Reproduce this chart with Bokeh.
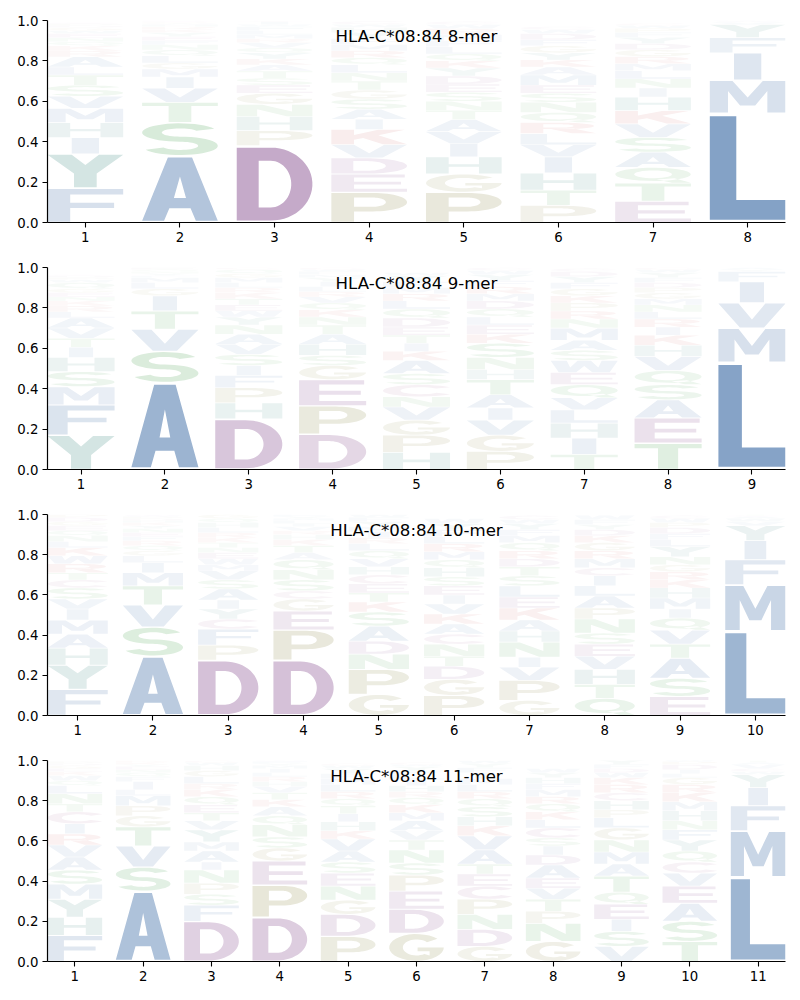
import numpy as np
from bokeh.plotting import figure
from bokeh.models import Range1d, FixedTicker, Label, ColumnDataSource, PrintfTickFormatter
from bokeh.layouts import column
from bokeh.embed import file_html
from bokeh.resources import INLINE

ALLELE = "HLA-C*08:84"

# ---------------- data: letters bottom-to-top per position, with probabilities ----------------
mer8_letters = [
    "FYIHMVSTLARKQNEWGDPC",
    "ASTVIMGLQNFEYKRHWPCD",
    "DPHNGESTAKYQVRMLFWIC",
    "PEDVKIASGTNLQRMFYHWC",
    "PGHIVATNSEDYKQLFMRWC",
    "PTHIVLRQNSEMAKYGFDWC",
    "ETQASVKHINLMRGDYFPWC",
    "LMIFYVAW",
]
mer8_heights = [
    [.17, .17, .08, .075, .07, .06, .055, .05, .04, .05, .03, .025, .02, .02, .02, .015, .015, .01, .01, .005],
    [.33, .165, .1, .07, .055, .04, .03, .035, .03, .025, .02, .02, .02, .015, .015, .01, .005, .005, .005, .005],
    [.38, .075, .07, .06, .055, .04, .035, .035, .03, .03, .03, .025, .025, .02, .02, .02, .02, .01, .015, .005],
    [.15, .09, .08, .066, .075, .05, .05, .05, .045, .045, .04, .04, .035, .035, .03, .03, .03, .025, .015, .015],
    [.15, .09, .085, .065, .06, .06, .045, .045, .045, .04, .04, .04, .035, .035, .035, .03, .03, .03, .02, .015],
    [.085, .075, .085, .08, .06, .055, .055, .05, .05, .045, .04, .05, .04, .035, .035, .035, .03, .03, .02, .015],
    [.105, .09, .078, .075, .074, .066, .066, .067, .045, .045, .04, .035, .035, .035, .03, .03, .025, .02, .015, .01],
    [.54, .165, .135, .075, .065, .01, .005, .005],
]

mer9_letters = [
    "YFMSHITVALRKNEGQWPDC",
    "ASVTIGLMFYNQE",
    "DHPFISVANYWETKRLMGQC",
    "DPEGSHATNKQVRLIYMFWC",
    "HPGVNCSAKITEDQLRMFYW",
    "PGVIATHNSKELQDMRFYWC",
    "TIHLVQEWSAMNRPKGFYDC",
    "TEASQVHKIRLNMGPDFYWC",
    "LMVIFYA",
]
mer9_heights = [
    [.17, .15, .09, .075, .07, .05, .045, .05, .05, .03, .03, .025, .02, .02, .02, .03, .015, .01, .01, .005],
    [.43, .155, .11, .09, .075, .035, .03, .025, .01, .01, .01, .01, .01],
    [.25, .08, .075, .06, .05, .055, .05, .05, .045, .04, .03, .03, .03, .03, .025, .025, .025, .02, .02, .01],
    [.175, .14, .13, .07, .05, .055, .05, .045, .04, .035, .035, .03, .025, .025, .025, .02, .015, .015, .01, .01],
    [.085, .085, .075, .065, .05, .06, .055, .065, .045, .04, .04, .04, .045, .045, .04, .035, .03, .03, .03, .015],
    [.09, .08, .075, .06, .065, .075, .05, .06, .07, .045, .045, .04, .04, .04, .035, .035, .03, .03, .02, .015],
    [.075, .08, .075, .065, .06, .065, .06, .06, .05, .05, .06, .045, .04, .04, .035, .035, .03, .03, .025, .015],
    [.13, .125, .09, .075, .07, .07, .055, .05, .04, .04, .035, .035, .03, .03, .025, .025, .025, .025, .015, .01],
    [.53, .17, .125, .105, .05, .01, .01],
]

mer10_letters = [
    "FYHAMIVSCTRWKLNQEGDP",
    "ASVTMILGQRFENYKHDPWC",
    "DPFCYIASVMWENTKRLHQG",
    "DPEGCSNQATKHRVILMYFW",
    "GPNDASKTECHVQLRIMYFW",
    "PGDTNCAKVIESHQMRLFYW",
    "GPVINHAKELSTDRQMFYWC",
    "QTHVESNPALICMRGKDYFW",
    "ESATVQIMHKRGNYLFDPWC",
    "LMFIYVWACT",
]
mer10_heights = [
    [.13, .12, .085, .07, .07, .055, .05, .055, .04, .035, .045, .04, .04, .03, .03, .025, .025, .02, .02, .015],
    [.295, .145, .11, .095, .065, .05, .035, .025, .025, .025, .02, .02, .02, .015, .015, .01, .01, .01, .005, .005],
    [.275, .075, .08, .05, .05, .045, .055, .045, .045, .03, .03, .03, .025, .025, .025, .025, .025, .025, .02, .02],
    [.275, .15, .095, .06, .04, .055, .05, .05, .035, .035, .03, .025, .02, .02, .015, .015, .01, .01, .01, .005],
    [.105, .125, .075, .065, .075, .07, .05, .045, .045, .045, .04, .04, .04, .035, .03, .03, .025, .025, .02, .015],
    [.1, .08, .065, .05, .06, .05, .05, .05, .05, .045, .045, .045, .045, .04, .04, .04, .035, .035, .03, .025],
    [.075, .1, .065, .05, .075, .055, .055, .06, .055, .055, .05, .045, .04, .04, .04, .035, .03, .03, .02, .02],
    [.085, .07, .075, .065, .06, .055, .07, .055, .06, .05, .05, .04, .045, .04, .04, .035, .03, .025, .025, .02],
    [.095, .09, .1, .07, .07, .06, .045, .055, .05, .04, .04, .035, .04, .05, .035, .03, .03, .025, .02, .015],
    [.42, .23, .125, .095, .075, .02, .015, .01, .005, .005],
]

mer11_letters = [
    "FHYMSAVRICTNLQWKEGDP",
    "ASVTGPMLIFQNEYKR",
    "DFSPNIAMYVTEQKRLGHWC",
    "DPEGSNQAKTVHRLIMYFWC",
    "PDGNESAVKHITQRLMFYWC",
    "GDEPSNTVAMKQRHILFYWC",
    "GDNPCETAVKHSQRLMIFYW",
    "GNPTVEADISCLKQRMFHYW",
    "VSIEQTAMNGLPHCRKWDFY",
    "TSAEVCQYFNHMKRGLIDPW",
    "LMFIYWCVAT",
]
mer11_heights = [
    [.13, .09, .09, .075, .07, .065, .06, .055, .05, .06, .04, .05, .04, .025, .025, .02, .015, .015, .01, .01],
    [.35, .12, .105, .095, .055, .05, .05, .03, .04, .025, .02, .015, .015, .01, .01, .01],
    [.2, .08, .055, .055, .065, .04, .055, .045, .06, .045, .04, .04, .04, .035, .03, .035, .03, .025, .015, .01],
    [.22, .16, .12, .065, .055, .06, .045, .045, .035, .035, .03, .025, .025, .02, .02, .015, .01, .01, .005, .005],
    [.125, .11, .07, .07, .065, .055, .055, .06, .04, .045, .04, .04, .035, .035, .035, .03, .025, .025, .015, .01],
    [.14, .12, .09, .08, .06, .065, .05, .045, .05, .04, .04, .035, .03, .03, .03, .025, .02, .02, .01, .01],
    [.075, .085, .075, .075, .065, .06, .05, .07, .07, .05, .045, .05, .04, .035, .035, .03, .03, .025, .02, .015],
    [.1, .09, .06, .06, .055, .05, .065, .05, .045, .04, .05, .04, .04, .04, .035, .035, .03, .03, .025, .02],
    [.075, .075, .06, .075, .06, .08, .06, .06, .06, .06, .05, .04, .045, .04, .04, .035, .025, .02, .02, .025],
    [.1, .1, .09, .085, .065, .055, .055, .055, .05, .045, .05, .045, .045, .04, .035, .02, .02, .025, .015, .01],
    [.42, .23, .125, .09, .065, .015, .015, .02, .01, .01],
]

panels = [
    ("8", mer8_letters, mer8_heights),
    ("9", mer9_letters, mer9_heights),
    ("10", mer10_letters, mer10_heights),
    ("11", mer11_letters, mer11_heights),
]

# ---------------- letter colours ----------------
BLUE = (26, 82, 149)
TEAL = (10, 105, 95)
PURPLE = (104, 32, 114)
RED = (185, 40, 40)
GREEN = (30, 140, 40)
OLIVE = (115, 110, 30)
PINK = (135, 45, 115)
LETTER_BASE = {}
for ch in "AVLIMFW":
    LETTER_BASE[ch] = BLUE
for ch in "YH":
    LETTER_BASE[ch] = TEAL
for ch in "DE":
    LETTER_BASE[ch] = PURPLE
for ch in "KR":
    LETTER_BASE[ch] = RED
for ch in "STNQ":
    LETTER_BASE[ch] = GREEN
for ch in "PG":
    LETTER_BASE[ch] = OLIVE
LETTER_BASE["C"] = PINK


def shade(ch, h):
    a = min(1.0, 0.01 + 0.98 * h)
    r, g, b = LETTER_BASE[ch]
    mix = [int(round(a * c + (1 - a) * 255)) for c in (r, g, b)]
    return "#%02x%02x%02x" % tuple(mix)


# ---------------- glyph outlines in a unit box ----------------
def ell(cx, cy, rx, ry, a0, a1, n=30):
    t = np.radians(np.linspace(a0, a1, n))
    return [(cx + rx * np.cos(v), cy + ry * np.sin(v)) for v in t]


def rect(x0, y0, x1, y1):
    return [(x0, y0), (x1, y0), (x1, y1), (x0, y1)]


GLYPHS = {
    "A": [[[(0, 0), (0.29, 0), (0.36, 0.2), (0.64, 0.2), (0.71, 0), (1, 0), (0.66, 1), (0.34, 1)],
           [(0.42, 0.36), (0.58, 0.36), (0.5, 0.7)]]],
    "C": [[ell(0.56, 0.5, 0.56, 0.5, 38, 322) + ell(0.56, 0.5, 0.3, 0.3, 322, 38)]],
    "D": [[[(0, 0), (0.45, 0)] + ell(0.45, 0.5, 0.55, 0.5, -90, 90) + [(0, 1)],
           [(0.29, 0.18), (0.45, 0.18)] + ell(0.45, 0.5, 0.27, 0.32, -90, 90) + [(0.29, 0.82)]]],
    "E": [[[(0, 0), (1, 0), (1, 0.17), (0.3, 0.17), (0.3, 0.42), (0.92, 0.42), (0.92, 0.58), (0.3, 0.58),
            (0.3, 0.83), (0.97, 0.83), (0.97, 1), (0, 1)]]],
    "F": [[[(0, 0), (0.3, 0), (0.3, 0.42), (0.88, 0.42), (0.88, 0.58), (0.3, 0.58), (0.3, 0.83), (1, 0.83),
            (1, 1), (0, 1)]]],
    "G": [[ell(0.5, 0.5, 0.5, 0.5, 40, 360) + [(0.52, 0.5), (0.52, 0.36), (0.74, 0.36), (0.74, 0.2)]
           + ell(0.5, 0.5, 0.25, 0.3, -55, -320)]],
    "H": [[[(0, 0), (0.3, 0), (0.3, 0.42), (0.7, 0.42), (0.7, 0), (1, 0), (1, 1), (0.7, 1), (0.7, 0.58),
            (0.3, 0.58), (0.3, 1), (0, 1)]]],
    "I": [[rect(0.32, 0, 0.68, 1)]],
    "K": [[[(0, 0), (0.3, 0), (0.3, 0.3), (0.42, 0.43), (0.68, 0), (1, 0), (0.62, 0.62), (0.97, 1),
            (0.62, 1), (0.3, 0.64), (0.3, 1), (0, 1)]]],
    "L": [[[(0, 0), (1, 0), (1, 0.19), (0.35, 0.19), (0.35, 1), (0, 1)]]],
    "M": [[[(0, 0), (0.24, 0), (0.24, 0.68), (0.4, 0.22), (0.6, 0.22), (0.76, 0.68), (0.76, 0), (1, 0),
            (1, 1), (0.7, 1), (0.5, 0.48), (0.3, 1), (0, 1)]]],
    "N": [[[(0, 0), (0.27, 0), (0.27, 0.6), (0.66, 0), (1, 0), (1, 1), (0.73, 1), (0.73, 0.4), (0.34, 1),
            (0, 1)]]],
    "P": [[[(0, 0), (0.3, 0), (0.3, 0.36), (0.55, 0.36)] + ell(0.55, 0.68, 0.45, 0.32, -90, 90) + [(0, 1)],
           [(0.3, 0.52), (0.55, 0.52)] + ell(0.55, 0.68, 0.17, 0.16, -90, 90) + [(0.3, 0.84)]]],
    "Q": [[ell(0.5, 0.56, 0.5, 0.44, 0, 360), ell(0.5, 0.56, 0.25, 0.26, 0, 360)],
          [[(0.55, 0.22), (0.78, 0.3), (1.0, 0.0), (0.75, 0.0)]]],
    "R": [[[(0, 0), (0.3, 0), (0.3, 0.4), (0.55, 0.4)] + ell(0.55, 0.7, 0.42, 0.3, -90, 90) + [(0, 1)],
           [(0.3, 0.55), (0.55, 0.55)] + ell(0.55, 0.7, 0.15, 0.15, -90, 90) + [(0.3, 0.85)]],
          [[(0.4, 0.42), (0.68, 0), (1, 0), (0.7, 0.46)]]],
    "S": [[ell(0.5, 0.71, 0.5, 0.29, 25, 270) + ell(0.5, 0.29, 0.24, 0.13, 90, -155)
           + ell(0.5, 0.29, 0.5, 0.29, -155, 90) + ell(0.5, 0.71, 0.24, 0.13, 270, 25)]],
    "T": [[[(0.35, 0), (0.65, 0), (0.65, 0.83), (1, 0.83), (1, 1), (0, 1), (0, 0.83), (0.35, 0.83)]]],
    "V": [[[(0.32, 0), (0.68, 0), (1, 1), (0.7, 1), (0.5, 0.33), (0.3, 1), (0, 1)]]],
    "W": [[[(0.12, 0), (0.38, 0), (0.5, 0.55), (0.62, 0), (0.88, 0), (1, 1), (0.76, 1), (0.71, 0.42),
            (0.6, 1), (0.4, 1), (0.29, 0.42), (0.24, 1), (0, 1)]]],
    "Y": [[[(0.35, 0), (0.65, 0), (0.65, 0.42), (1, 1), (0.68, 1), (0.5, 0.68), (0.32, 1), (0, 1),
            (0.35, 0.42)]]],
}

LETTER_W = 0.8
VPAD = 0.05
FONT = "DejaVu Sans"
FRAME_H = [202, 202, 201, 201]
TOP_B = [20, 12, 12, 12]


def make_panel(k, letters, heights, frame_h, top_border):
    n = len(letters)
    xs, ys, cols = [], [], []
    for i, (col_letters, col_heights) in enumerate(zip(letters, heights)):
        pos = i + 1
        floor = 0.0
        for ch, h in zip(col_letters, col_heights):
            pad = VPAD * h / 2
            y0 = floor + pad
            gh = h - 2 * pad
            x0 = pos - LETTER_W / 2
            gx, gy = [], []
            for poly in GLYPHS[ch]:
                px, py = [], []
                for ring in poly:
                    px.append([x0 + LETTER_W * q[0] for q in ring])
                    py.append([y0 + gh * q[1] for q in ring])
                gx.append(px)
                gy.append(py)
            xs.append(gx)
            ys.append(gy)
            cols.append(shade(ch, h))
            floor += h

    p = figure(frame_width=738, frame_height=frame_h,
               min_border_left=47, min_border_right=7, min_border_top=top_border, min_border_bottom=33,
               x_range=Range1d(0.6, n + 0.4), y_range=Range1d(0, 1),
               output_backend="svg", toolbar_location=None)
    src = ColumnDataSource(dict(xs=xs, ys=ys, color=cols))
    p.multi_polygons(xs="xs", ys="ys", source=src, fill_color="color", line_color=None)

    p.xaxis.ticker = FixedTicker(ticks=list(range(1, n + 1)))
    p.yaxis.ticker = FixedTicker(ticks=[0, 0.2, 0.4, 0.6, 0.8, 1.0])
    p.yaxis.formatter = PrintfTickFormatter(format="%.1f")
    for ax in (p.xaxis, p.yaxis):
        ax.major_tick_in = 0
        ax.major_tick_out = 5
        ax.minor_tick_line_color = None
        ax.axis_line_color = "black"
        ax.axis_line_width = 1.2
        ax.major_tick_line_color = "black"
        ax.major_tick_line_width = 1.1
        ax.major_label_text_font = FONT
        ax.major_label_text_font_size = "13.3px"
        ax.major_label_text_color = "black"
        ax.major_label_standoff = 4
    p.grid.visible = False
    p.outline_line_color = None

    title = Label(x=(0.6 + n + 0.4) / 2, y=1.0, y_offset=-16, text=f"{ALLELE} {k}-mer",
                  text_align="center", text_baseline="middle", text_font=FONT,
                  text_font_size="16.6px", text_color="black")
    p.add_layout(title)
    return p


figs = [make_panel(k, L, H, FRAME_H[i], TOP_B[i]) for i, (k, L, H) in enumerate(panels)]
layout = column(*figs, spacing=0)
open("out.html", "w").write(file_html(layout, INLINE))
